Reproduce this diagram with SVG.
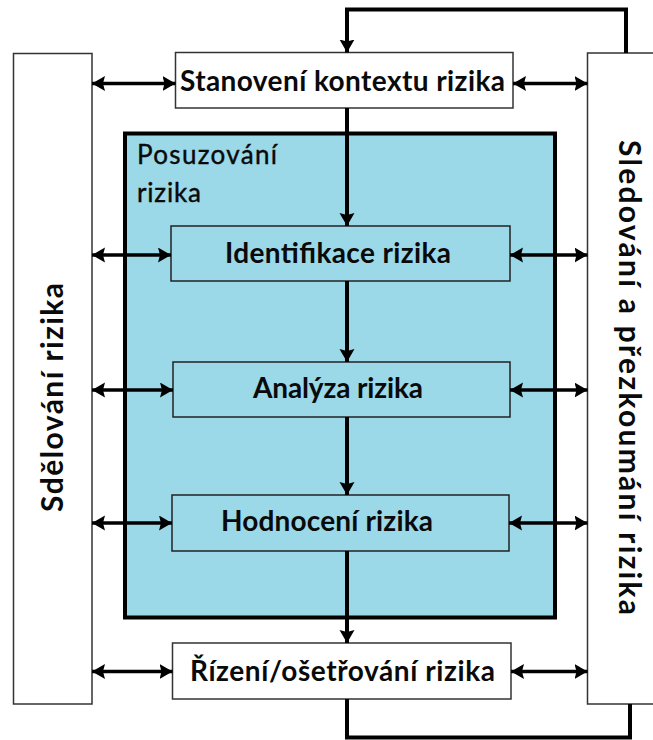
<svg xmlns="http://www.w3.org/2000/svg" width="653" height="740" viewBox="0 0 653 740">
<style>
.box{fill:#ffffff;stroke:#333333;stroke-width:1.5}
.inner{fill:#9bd8e8;stroke:#222222;stroke-width:1.5}
.main{fill:#9bd8e8;stroke:#000000;stroke-width:4}
.lbl{font-family:Lato,"Open Sans","Liberation Sans",sans-serif;font-weight:bold;font-size:28px;fill:#0a0a0a}
.reg{font-family:Lato,"Open Sans","Liberation Sans",sans-serif;font-weight:normal;font-size:26px;fill:#0a0a0a;stroke:#0a0a0a;stroke-width:0.4}
.side{font-family:Lato,"Open Sans","Liberation Sans",sans-serif;font-weight:bold;font-size:30px;fill:#0a0a0a}
.ln{fill:none;stroke:#000000;stroke-width:4}
.dbl{fill:none;stroke:#000000;stroke-width:3.5;marker-start:url(#ah);marker-end:url(#ah)}
.one{fill:none;stroke:#000000;stroke-width:4;marker-end:url(#ah)}
</style>
<defs>
<marker id="ah" markerUnits="userSpaceOnUse" markerWidth="15" markerHeight="16" refX="13" refY="7.5" orient="auto-start-reverse">
<path d="M0,0 L13,7.5 L0,15 L2,7.5 Z" fill="#000000"/>
</marker>
</defs>
<rect width="653" height="740" fill="#ffffff"/>
<g id="sdelovani">
<rect class="box" x="13.5" y="53.5" width="78.5" height="650.5"/>
<text class="side" transform="translate(63,512) rotate(-90)" x="0" y="0" textLength="229">Sdělování rizika</text>
</g>
<g id="sledovani">
<rect class="box" x="587.5" y="53" width="80" height="651"/>
<text class="side" transform="translate(619,140) rotate(90)" x="0" y="0" textLength="475">Sledování a přezkoumání rizika</text>
</g>
<g id="posuzovani">
<rect class="main" x="125" y="133.5" width="430" height="484"/>
<text class="reg" x="137" y="164" textLength="140">Posuzování</text>
<text class="reg" x="137" y="202" textLength="64">rizika</text>
</g>
<g id="stanoveni">
<rect class="box" x="175.5" y="52.5" width="337.5" height="55.5"/>
<text class="lbl" x="180" y="91" textLength="325">Stanovení kontextu rizika</text>
</g>
<g id="identifikace">
<rect class="inner" x="171" y="226" width="339" height="55"/>
<text class="lbl" x="225" y="263" textLength="226">Identifikace rizika</text>
</g>
<g id="analyza">
<rect class="inner" x="173" y="362" width="337" height="55"/>
<text class="lbl" x="253" y="398" textLength="170">Analýza rizika</text>
</g>
<g id="hodnoceni">
<rect class="inner" x="172" y="495" width="337" height="56"/>
<text class="lbl" x="221" y="531" textLength="212">Hodnocení rizika</text>
</g>
<g id="rizeni">
<rect class="box" x="172.5" y="643" width="338.5" height="56"/>
<text class="lbl" x="190" y="681" textLength="305">Řízení/ošetřování rizika</text>
</g>
<g id="connectors">
<polyline class="one" points="626,53 626,9.5 347,9.5 347,52.5"/>
<polyline class="ln" points="347,699 347,737.5 630,737.5 630,704"/>
<line class="one" x1="347" y1="108" x2="347" y2="226"/>
<line class="one" x1="347" y1="281" x2="347" y2="362"/>
<line class="one" x1="347" y1="417" x2="347" y2="495"/>
<line class="one" x1="347" y1="551" x2="347" y2="643"/>
<line class="dbl" x1="92" y1="83.5" x2="175.5" y2="83.5"/>
<line class="dbl" x1="513" y1="83.5" x2="587.5" y2="83.5"/>
<line class="dbl" x1="92" y1="255" x2="171" y2="255"/>
<line class="dbl" x1="510" y1="255" x2="587.5" y2="255"/>
<line class="dbl" x1="92" y1="390" x2="173" y2="390"/>
<line class="dbl" x1="510" y1="390" x2="587.5" y2="390"/>
<line class="dbl" x1="92" y1="523" x2="172" y2="523"/>
<line class="dbl" x1="509" y1="523" x2="587.5" y2="523"/>
<line class="dbl" x1="92" y1="671.5" x2="172.5" y2="671.5"/>
<line class="dbl" x1="511" y1="671.5" x2="587.5" y2="671.5"/>
</g>
</svg>
